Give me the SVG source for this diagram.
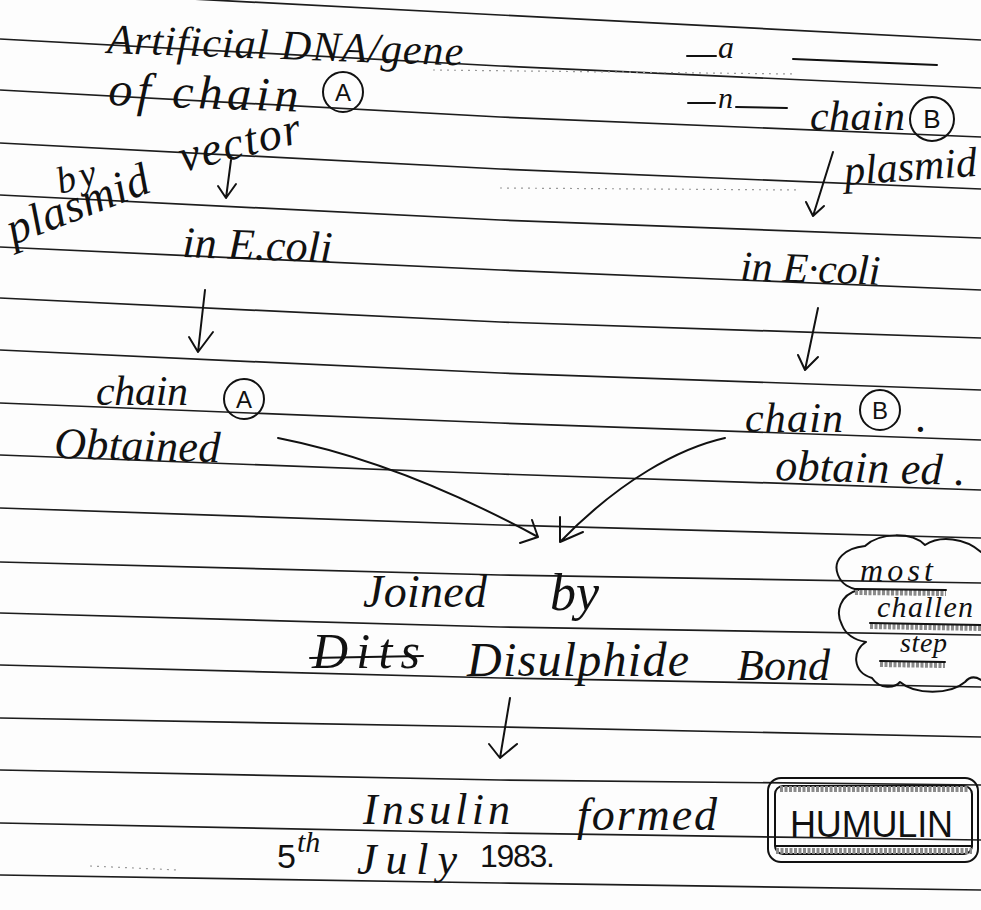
<svg xmlns="http://www.w3.org/2000/svg" width="981" height="910" viewBox="0 0 981 910">
<defs>
<style>
.rule{fill:none;stroke:#1c1c1c;stroke-width:1.7}
.h{font-family:"Liberation Serif","DejaVu Serif",serif;font-style:italic;fill:#111}
.s{font-family:"Liberation Sans","DejaVu Sans",sans-serif;fill:#111}
.ink{fill:none;stroke:#111;stroke-width:2;stroke-linecap:round;stroke-linejoin:round}
.hl{fill:none;stroke:#8a8a8a;stroke-width:6;stroke-dasharray:3 1.5}
.noise{fill:none;stroke:#9a9a9a;stroke-width:1.2;stroke-dasharray:2 5}
</style>
</defs>
<rect width="981" height="910" fill="#fdfdfd"/>
<g id="ruled-lines">
<polyline class="rule" points="0,-11 500,15 981,40"/>
<polyline class="rule" points="0,39 500,66 981,88"/>
<polyline class="rule" points="0,90 500,117 981,137"/>
<polyline class="rule" points="0,143 500,169 981,189"/>
<polyline class="rule" points="0,195 500,220 981,238"/>
<polyline class="rule" points="0,247 500,270 981,290"/>
<polyline class="rule" points="0,298 500,322 981,338"/>
<polyline class="rule" points="0,350 500,373 981,390"/>
<polyline class="rule" points="0,403 500,423 981,440"/>
<polyline class="rule" points="0,455 500,474 981,490"/>
<polyline class="rule" points="0,508 500,525 981,538"/>
<polyline class="rule" points="0,562 500,575 981,583"/>
<polyline class="rule" points="0,613 500,627 981,635"/>
<polyline class="rule" points="0,665 500,678 981,687"/>
<polyline class="rule" points="0,718 500,727 981,737"/>
<polyline class="rule" points="0,770 500,780 981,785"/>
<polyline class="rule" points="0,823 500,833 981,840"/>
<polyline class="rule" points="0,875 500,883 981,890"/>
<path class="noise" d="M433,70 L795,74"/>
<path class="noise" d="M500,188 L800,190"/>
<path class="noise" d="M90,866 L178,870"/>
</g>

<g id="dna-chain-a">
<text class="h" x="107" y="53" font-size="42" textLength="356" transform="rotate(2 107 53)">Artificial DNA/gene</text>
<text class="h" x="108" y="105" font-size="48" textLength="190" transform="rotate(2 108 105)">of chain</text>
<circle class="ink" cx="343" cy="92" r="20"/>
<text class="s" x="343" y="101" font-size="24" text-anchor="middle">A</text>
</g>

<g id="dna-chain-b">
<path class="ink" d="M687,56 L716,56"/>
<text class="h" x="718" y="58" font-size="32">a</text>
<path class="ink" d="M793,59 L937,65"/>
<path class="ink" d="M688,103 L715,103"/>
<text class="h" x="718" y="108" font-size="30">n</text>
<path class="ink" d="M736,107 L787,108"/>
<text class="h" x="810" y="130" font-size="42" textLength="95">chain</text>
<circle class="ink" cx="932" cy="119" r="22"/>
<text class="s" x="932" y="128" font-size="26" text-anchor="middle">B</text>
</g>

<g id="plasmid-a">
<text class="h" x="60" y="194" font-size="38" textLength="40" transform="rotate(-15 60 194)">by</text>
<text class="h" x="13" y="245" font-size="46" textLength="150" transform="rotate(-21 13 245)">plasmid</text>
<text class="h" x="183" y="172" font-size="46" textLength="124" transform="rotate(-14 183 172)">vector</text>
</g>

<g id="plasmid-b">
<text class="h" x="845" y="185" font-size="42" textLength="133" transform="rotate(-4 845 185)">plasmid</text>
</g>

<g id="ecoli-a">
<text class="h" x="182" y="257" font-size="44" textLength="150" transform="rotate(2 182 257)">in E.coli</text>
</g>

<g id="ecoli-b">
<text class="h" x="740" y="280" font-size="42" textLength="140" transform="rotate(2 740 280)">in E·coli</text>
</g>

<g id="chain-a-obtained">
<text class="h" x="96" y="405" font-size="42" textLength="92">chain</text>
<circle class="ink" cx="244" cy="399" r="20"/>
<text class="s" x="244" y="408" font-size="24" text-anchor="middle">A</text>
<text class="h" x="54" y="458" font-size="44" textLength="166" transform="rotate(1.5 54 458)">Obtained</text>
</g>

<g id="chain-b-obtained">
<text class="h" x="745" y="432" font-size="42" textLength="98">chain</text>
<circle class="ink" cx="880" cy="410" r="20"/>
<text class="h" x="916" y="432" font-size="44">.</text>
<text class="s" x="880" y="419" font-size="24" text-anchor="middle">B</text>
<text class="h" x="775" y="480" font-size="44" textLength="190" transform="rotate(1.5 775 480)">obtain ed .</text>
</g>

<g id="joined">
<text class="h" x="363" y="607" font-size="46" textLength="124">Joined</text>
<text class="h" x="550" y="610" font-size="52">by</text>
<text class="h" x="312" y="668" font-size="50" textLength="108">Dits</text>
<path class="ink" d="M310,658 L423,656"/>
<text class="h" x="467" y="676" font-size="48" textLength="222">Disulphide</text>
<text class="h" x="737" y="680" font-size="44" textLength="93">Bond</text>
</g>

<g id="challenge-note">
<path class="ink" d="M981,552 C965,538 940,535 925,545 C912,532 880,532 865,546 C845,548 832,560 838,575 C842,585 850,588 858,590 C840,595 835,612 842,625 C846,635 855,640 866,642 C852,650 852,672 872,678 C880,690 895,688 900,682 C915,695 950,695 965,682 C970,676 975,676 981,680"/>
<text class="h" x="860" y="581" font-size="32" textLength="73">most</text>
<path class="hl" d="M855,592 L946,593"/>
<path class="ink" d="M855,589 L946,590" stroke-width="2.5"/>
<text class="h" x="877" y="617" font-size="30" textLength="96">challen</text>
<path class="hl" d="M870,626 L981,628"/>
<path class="ink" d="M870,623 L981,625" stroke-width="2.5"/>
<text class="h" x="900" y="652" font-size="28" textLength="47">step</text>
<path class="hl" d="M880,664 L945,665"/>
<path class="ink" d="M880,661 L945,662" stroke-width="2.5"/>
</g>

<g id="insulin">
<text class="h" x="363" y="824" font-size="44" textLength="147">Insulin</text>
<text class="h" x="577" y="830" font-size="46" textLength="140">formed</text>
<text class="s" x="277" y="868" font-size="34">5</text>
<text class="h" x="297" y="852" font-size="30">th</text>
<text class="h" x="357" y="874" font-size="44" textLength="100">July</text>
<text class="s" x="480" y="867" font-size="32" textLength="75">1983.</text>
</g>

<g id="humulin">
<rect class="ink" x="768" y="778" width="210" height="84" rx="13" stroke-width="2.8"/>
<rect class="ink" x="775" y="786" width="197" height="68" rx="8" stroke-width="1.4"/>
<path class="hl" d="M780,789 L968,789"/>
<path class="hl" d="M776,851 L972,851"/>
<path class="ink" d="M776,846 L972,846" stroke-width="2"/>
<text class="s" x="790" y="837" font-size="36" textLength="163">HUMULIN</text>
</g>

<g id="connectors">
<path class="ink" d="M231,160 L226,198 M218,186 L226,198 L236,184"/>
<path class="ink" d="M833,152 L813,216 M806,202 L813,216 L824,206"/>
<path class="ink" d="M205,290 L198,352 M189,337 L198,352 L213,332"/>
<path class="ink" d="M818,308 L805,370 M798,355 L805,370 L818,357"/>
<path class="ink" d="M278,438 Q400,462 538,537 M520,543 L538,537 L532,520"/>
<path class="ink" d="M725,438 C680,448 620,480 560,542 M560,517 L560,542 L583,532"/>
<path class="ink" d="M510,698 L500,758 M489,744 L500,758 L517,744"/>
</g>
</svg>
